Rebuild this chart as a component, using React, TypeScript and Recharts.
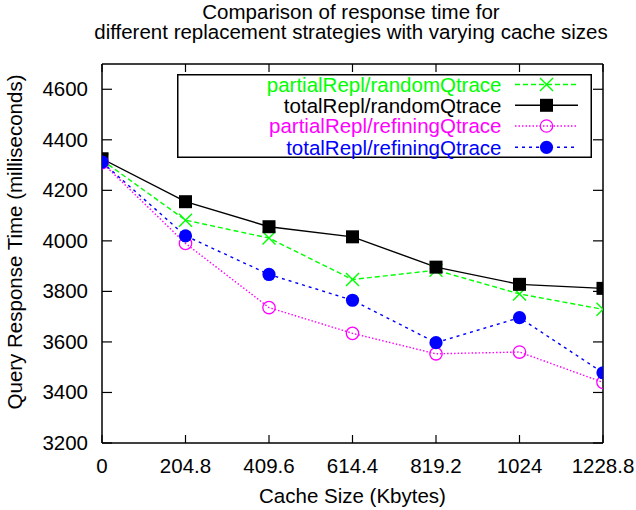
import React from 'react';
import { LineChart, Line, XAxis, YAxis, Legend } from 'recharts';

const cacheSizes = [0, 204.8, 409.6, 614.4, 819.2, 1024, 1228.8];
const partialRandom = [4320, 4082, 4011, 3847, 3884, 3790, 3729];
const totalRandom = [4325, 4155, 4056, 4016, 3896, 3828, 3812];
const partialRefining = [4310, 3990, 3736, 3634, 3553, 3560, 3440];
const totalRefining = [4312, 4020, 3867, 3765, 3597, 3696, 3478];

const xTicks = [0, 204.8, 409.6, 614.4, 819.2, 1024, 1228.8];
const xTickLabels = ['0', '204.8', '409.6', '614.4', '819.2', '1024', '1228.8'];
const yTicks = [3200, 3400, 3600, 3800, 4000, 4200, 4400, 4600];
const yDomain = [3200, 4700];
const xDomain = [0, 1228.8];

const titleLines = ['Comparison of response time for', 'different replacement strategies with varying cache sizes'];
const xLabel = 'Cache Size (Kbytes)';
const yLabel = 'Query Response Time (milliseconds)';

const FONT = '"Liberation Sans", Arial, Helvetica, sans-serif';
const FS = 20.5;

const data = cacheSizes.map((x, i) => ({
  x,
  partialRandom: partialRandom[i],
  totalRandom: totalRandom[i],
  partialRefining: partialRefining[i],
  totalRefining: totalRefining[i],
}));

const GREEN = '#00ff00';
const MAGENTA = '#ff00ff';
const BLUE = '#0000ff';
const BLACK = '#000000';

type MarkerKind = 'cross' | 'square' | 'openCircle' | 'filledCircle';

const Marker = ({ kind, cx, cy, color }: { kind: MarkerKind; cx: number; cy: number; color: string }) => {
  const s = 6.5;
  if (kind === 'cross') {
    return (
      <g>
        <line x1={cx - s} y1={cy - s} x2={cx + s} y2={cy + s} stroke={color} strokeWidth={1.4} />
        <line x1={cx - s} y1={cy + s} x2={cx + s} y2={cy - s} stroke={color} strokeWidth={1.4} />
      </g>
    );
  }
  if (kind === 'square') {
    return <rect x={cx - s} y={cy - s} width={2 * s} height={2 * s} fill={color} />;
  }
  if (kind === 'openCircle') {
    return <circle cx={cx} cy={cy} r={6.2} fill="none" stroke={color} strokeWidth={1.3} />;
  }
  return <circle cx={cx} cy={cy} r={6.6} fill={color} />;
};

const series = [
  { key: 'partialRandom', name: 'partialRepl/randomQtrace', color: GREEN, dash: '5 3', marker: 'cross' as MarkerKind },
  { key: 'totalRandom', name: 'totalRepl/randomQtrace', color: BLACK, dash: undefined, marker: 'square' as MarkerKind },
  { key: 'partialRefining', name: 'partialRepl/refiningQtrace', color: MAGENTA, dash: '1.5 2', marker: 'openCircle' as MarkerKind },
  { key: 'totalRefining', name: 'totalRepl/refiningQtrace', color: BLUE, dash: '3 4', marker: 'filledCircle' as MarkerKind },
];

const makeDot = (kind: MarkerKind, color: string) => (props: any) => {
  const { cx, cy, index } = props;
  if (cx == null || cy == null) return <g key={`d-${index}`} />;
  return (
    <g key={`d-${kind}-${index}`}>
      <Marker kind={kind} cx={cx} cy={cy} color={color} />
    </g>
  );
};

const BottomTick = (props: any) => {
  const { x, y, payload, index } = props;
  const i = xTicks.indexOf(payload.value);
  const label = i >= 0 ? xTickLabels[i] : String(payload.value);
  return (
    <g key={`bt-${index}`}>
      <line x1={x} y1={y} x2={x} y2={y - 8} stroke="#000" strokeWidth={1.2} />
      <text x={x} y={y + 30} textAnchor="middle" fontFamily={FONT} fontSize={FS} fill="#000">
        {label}
      </text>
    </g>
  );
};

const TopTick = (props: any) => {
  const { x, y, index } = props;
  return <line key={`tt-${index}`} x1={x} y1={y} x2={x} y2={y + 8} stroke="#000" strokeWidth={1.2} />;
};

const LeftTick = (props: any) => {
  const { x, y, payload, index } = props;
  return (
    <g key={`lt-${index}`}>
      <line x1={x} y1={y} x2={x + 10} y2={y} stroke="#000" strokeWidth={1.2} />
      <text x={x - 14} y={y + 7} textAnchor="end" fontFamily={FONT} fontSize={FS} fill="#000">
        {payload.value}
      </text>
    </g>
  );
};

const RightTick = (props: any) => {
  const { x, y, index } = props;
  return <line key={`rt-${index}`} x1={x} y1={y} x2={x - 10} y2={y} stroke="#000" strokeWidth={1.2} />;
};

const LegendBox = () => {
  const w = 415;
  const h = 84;
  const rowY = [10.5, 31.3, 52, 73.3];
  return (
    <svg width={w} height={h} style={{ display: 'block', overflow: 'visible' }}>
      <rect x={0.75} y={0.75} width={w - 1.5} height={h - 1.5} fill="#fff" stroke="#000" strokeWidth={1.5} />
      {series.map((s, i) => (
        <g key={s.key}>
          <text x={324.5} y={rowY[i] + 7.3} textAnchor="end" fontFamily={FONT} fontSize={FS} fill={s.color}>
            {s.name}
          </text>
          <line
            x1={338}
            y1={rowY[i]}
            x2={401}
            y2={rowY[i]}
            stroke={s.color}
            strokeWidth={1.4}
            strokeDasharray={s.dash}
          />
          <Marker kind={s.marker} cx={369.5} cy={rowY[i]} color={s.color} />
        </g>
      ))}
    </svg>
  );
};

export default function App() {
  return (
    <div style={{ position: 'absolute', left: 0, top: 0, width: 636, height: 510, background: '#fff' }}>
      <LineChart width={636} height={510} data={data} margin={{ top: 60, right: 23, bottom: 7, left: 0 }}>
        <XAxis
          xAxisId="b"
          type="number"
          dataKey="x"
          domain={xDomain}
          ticks={xTicks}
          interval={0}
          allowDataOverflow
          orientation="bottom"
          height={60}
          tickLine={false}
          tickSize={0}
          tickMargin={0}
          axisLine={{ stroke: '#000', strokeWidth: 1.5 }}
          tick={BottomTick}
        />
        <XAxis
          xAxisId="t"
          type="number"
          dataKey="x"
          domain={xDomain}
          ticks={xTicks}
          interval={0}
          allowDataOverflow
          orientation="top"
          height={4}
          tickLine={false}
          tickSize={0}
          tickMargin={0}
          axisLine={{ stroke: '#000', strokeWidth: 1.5 }}
          tick={TopTick}
        />
        <YAxis
          yAxisId="l"
          type="number"
          domain={yDomain}
          ticks={yTicks}
          interval={0}
          allowDataOverflow
          orientation="left"
          width={102}
          tickLine={false}
          tickSize={0}
          tickMargin={0}
          axisLine={{ stroke: '#000', strokeWidth: 1.5 }}
          tick={LeftTick}
        />
        <YAxis
          yAxisId="r"
          type="number"
          domain={yDomain}
          ticks={yTicks}
          interval={0}
          allowDataOverflow
          orientation="right"
          width={10}
          tickLine={false}
          tickSize={0}
          tickMargin={0}
          axisLine={{ stroke: '#000', strokeWidth: 1.5 }}
          tick={RightTick}
        />
        {series.map((s) => (
          <Line
            key={s.key}
            xAxisId="b"
            yAxisId="l"
            type="linear"
            dataKey={s.key}
            name={s.name}
            stroke={s.color}
            strokeWidth={1.4}
            strokeDasharray={s.dash}
            dot={makeDot(s.marker, s.color)}
            activeDot={false}
            isAnimationActive={false}
          />
        ))}
        <Legend
          layout="vertical"
          align="center"
          verticalAlign="middle"
          content={() => <LegendBox />}
          wrapperStyle={{ position: 'absolute', left: 177, top: 74, width: 415, height: 84 }}
        />
        <text x={351} y={19} textAnchor="middle" fontFamily={FONT} fontSize={FS} fill="#000">
          {titleLines[0]}
        </text>
        <text x={351} y={39} textAnchor="middle" fontFamily={FONT} fontSize={FS} fill="#000">
          {titleLines[1]}
        </text>
        <text x={352.5} y={503} textAnchor="middle" fontFamily={FONT} fontSize={FS} fill="#000">
          {xLabel}
        </text>
        <text
          x={22}
          y={242}
          textAnchor="middle"
          fontFamily={FONT}
          fontSize={FS}
          fill="#000"
          transform="rotate(-90 22 242)"
        >
          {yLabel}
        </text>
      </LineChart>
    </div>
  );
}
